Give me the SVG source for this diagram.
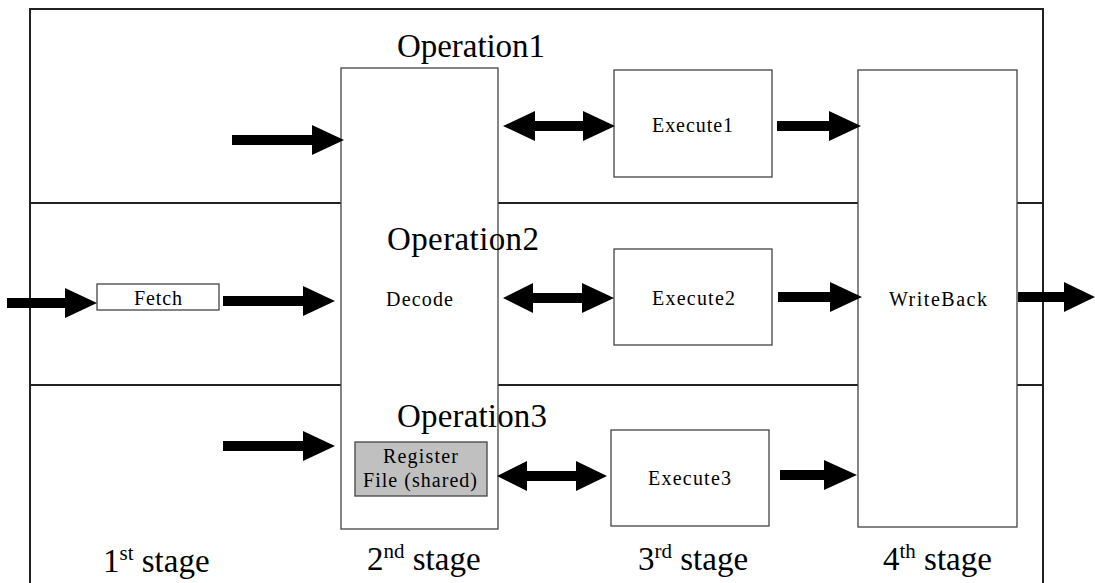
<svg xmlns="http://www.w3.org/2000/svg" width="1095" height="583" viewBox="0 0 1095 583">
<style>
.row{fill:none;stroke:#222;stroke-width:2}
.box{fill:#fff;stroke:#444;stroke-width:1.3}
.reg{fill:#c0c0c0;stroke:#444;stroke-width:1.3}
.arr{fill:#000}
text{font-family:"Liberation Serif","Times New Roman",serif;fill:#000}
.op{font-size:33px}
.lb{font-size:20px}
.sm{font-size:20px}
.st{font-size:33px}
</style>
<rect width="1095" height="583" fill="#fff"/>
<g id="rows">
<rect class="row" x="30" y="9" width="1013" height="194"/>
<rect class="row" x="30" y="203" width="1013" height="182"/>
<rect class="row" x="30" y="385" width="1013" height="210"/>
</g>
<g id="decode"><rect class="box" x="341" y="68" width="157" height="461" fill="none"/><text class="lb" x="386" y="306" textLength="67" lengthAdjust="spacing">Decode</text></g>
<g id="writeback"><rect class="box" x="858" y="70" width="159" height="457"/><text class="lb" x="889" y="306" textLength="98" lengthAdjust="spacing">WriteBack</text></g>
<g id="execute1"><rect class="box" x="614" y="70" width="158" height="107"/><text class="lb" x="652" y="132" textLength="81" lengthAdjust="spacing">Execute1</text></g>
<g id="execute2"><rect class="box" x="614" y="249" width="158" height="96"/><text class="lb" x="652" y="305" textLength="83" lengthAdjust="spacing">Execute2</text></g>
<g id="execute3"><rect class="box" x="611" y="430" width="158" height="96"/><text class="lb" x="648" y="485" textLength="83" lengthAdjust="spacing">Execute3</text></g>
<g id="fetch"><rect class="box" x="97" y="284" width="122" height="26"/><text class="lb" x="134" y="305" textLength="48" lengthAdjust="spacing">Fetch</text></g>
<g id="regfile"><rect class="reg" x="355" y="442" width="132" height="54"/><text class="sm" x="383" y="463" textLength="75" lengthAdjust="spacing">Register</text><text class="sm" x="363" y="487" textLength="114" lengthAdjust="spacing">File (shared)</text></g>
<g id="labels">
<text class="op" x="397" y="57" textLength="148" lengthAdjust="spacing">Operation1</text>
<text class="op" x="387" y="250" textLength="152" lengthAdjust="spacing">Operation2</text>
<text class="op" x="397" y="427" textLength="150" lengthAdjust="spacing">Operation3</text>
<text class="st" x="103" y="572">1<tspan font-size="21" dy="-12">st</tspan><tspan dy="12"> stage</tspan></text>
<text class="st" x="367" y="570">2<tspan font-size="21" dy="-12">nd</tspan><tspan dy="12"> stage</tspan></text>
<text class="st" x="638" y="570">3<tspan font-size="21" dy="-12">rd</tspan><tspan dy="12"> stage</tspan></text>
<text class="st" x="883" y="570">4<tspan font-size="21" dy="-12">th</tspan><tspan dy="12"> stage</tspan></text>
</g>
<g id="connectors">
<polygon class="arr" points="232,135 312,135 312,125 344,140 312,155 312,145 232,145"/>
<polygon class="arr" points="503,126 535,111 535,121 583,121 583,111 615,126 583,141 583,131 535,131 535,141"/>
<polygon class="arr" points="777,121 829,121 829,111 861,126 829,141 829,131 777,131"/>
<polygon class="arr" points="7,298 65,298 65,288 97,303 65,318 65,308 7,308"/>
<polygon class="arr" points="223,296 303,296 303,286 335,301 303,316 303,306 223,306"/>
<polygon class="arr" points="503,298 533,283 533,293 582,293 582,283 614,298 582,313 582,303 533,303 533,313"/>
<polygon class="arr" points="778,292 830,292 830,282 862,297 830,312 830,302 778,302"/>
<polygon class="arr" points="1018,292 1064,292 1064,282 1095,297 1064,312 1064,302 1018,302"/>
<polygon class="arr" points="223,441 303,441 303,431 335,446 303,461 303,451 223,451"/>
<polygon class="arr" points="497,476 527,461 527,471 576,471 576,461 607,476 576,491 576,481 527,481 527,491"/>
<polygon class="arr" points="780,470 824,470 824,460 857,475 824,490 824,480 780,480"/>
</g>
</svg>
